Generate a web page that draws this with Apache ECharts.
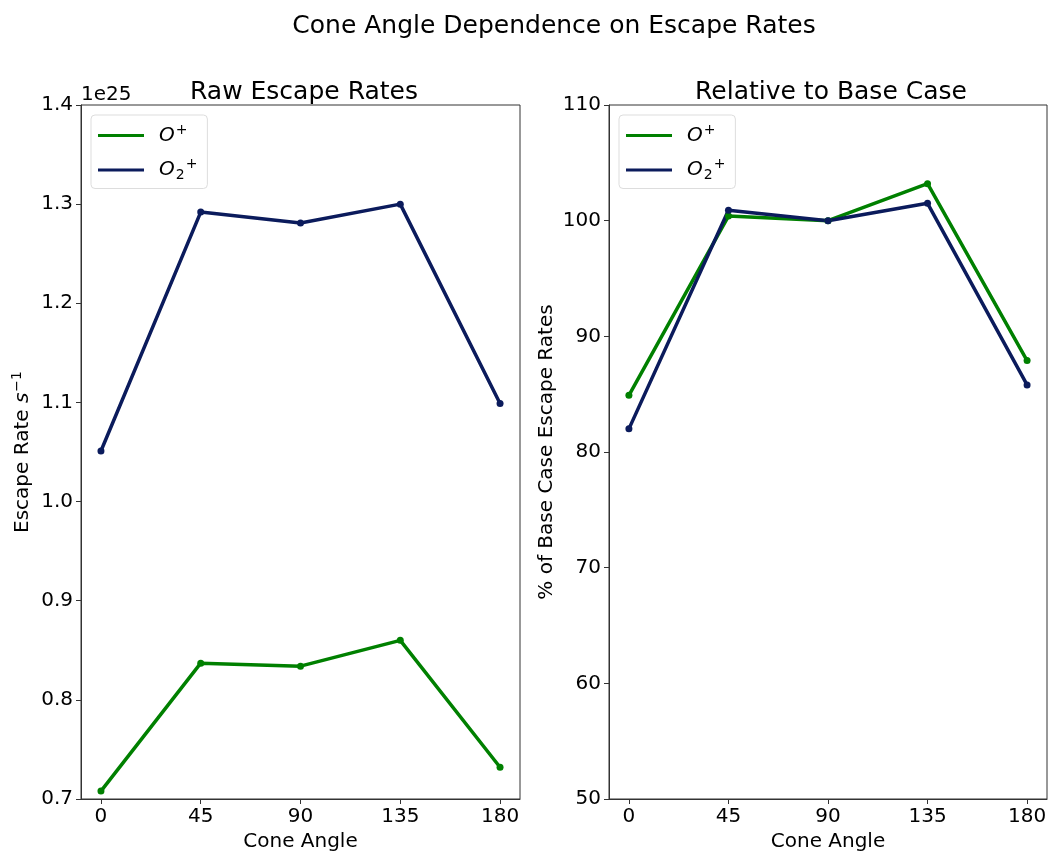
<!DOCTYPE html>
<html>
<head>
<meta charset="utf-8">
<script src="https://cdn.jsdelivr.net/npm/echarts@6/dist/echarts.min.js"></script>
<style>html,body{margin:0;padding:0;background:#fff}#c{width:1050px;height:852px}</style>
</head>
<body>
<div id="c"></div>
<script>
const coneAngles = [0, 45, 90, 135, 180];
const xTicks = [0, 45, 90, 135, 180];
// Raw escape rates, in units of 1e25 s^-1
const rawOPlus = [0.708, 0.837, 0.834, 0.860, 0.732];
const rawO2Plus = [1.051, 1.292, 1.281, 1.300, 1.099];
// Relative to base case (%)
const relOPlus = [84.9, 100.4, 100.0, 103.2, 87.9];
const relO2Plus = [82.0, 100.9, 100.0, 101.5, 85.8];
const seriesNames = ['O+', 'O2+'];
const colors = ['#008000', '#0b1b5c'];

const FONT = 'DejaVu Sans';
const chart = echarts.init(document.getElementById('c'), null, {renderer: 'canvas'});

function pairs(ys) { return coneAngles.map((x, i) => [x, ys[i]]); }

const rich = {
  i: {fontFamily: FONT, fontStyle: 'italic', fontSize: 20, color: '#000'},
  sp: {fontFamily: FONT, fontSize: 14, color: '#000', padding: [0, 0, 11, 1]},
  sb: {fontFamily: FONT, fontSize: 14, color: '#000', padding: [11, 0, 0, 1]}
};
function legendFmt(name) {
  return name === 'O+' ? '{i|O}{sp|+}' : '{i|O}{sb|2}{sp|+}';
}

function xAxis(gi) {
  return {
    type: 'value', gridIndex: gi, min: -9, max: 189,
    name: 'Cone Angle', nameLocation: 'middle', nameGap: 27,
    nameTextStyle: {fontFamily: FONT, fontSize: 20, color: '#000'},
    axisLine: {show: true, onZero: false, lineStyle: {color: '#333', width: 1}},
    axisTick: {show: true, inside: false, length: 5, customValues: xTicks, lineStyle: {color: '#333'}},
    axisLabel: {customValues: xTicks, fontFamily: FONT, fontSize: 20, color: '#000', margin: 8},
    splitLine: {show: false}
  };
}

const legendBase = {
  data: seriesNames, top: 115, orient: 'vertical', icon: 'rect', itemWidth: 46, itemHeight: 3,
  itemGap: 12, padding: [8, 10, 6, 7], borderColor: '#ddd', borderWidth: 1, borderRadius: 4,
  backgroundColor: '#fff', formatter: legendFmt, textStyle: {rich: rich, padding: [0, 0, 0, 10]}
};

const option = {
  backgroundColor: '#fff',
  animation: false,
  title: [
    {text: 'Cone Angle Dependence on Escape Rates', left: 549, textAlign: 'center', top: 9,
     textStyle: {fontFamily: FONT, fontSize: 25, fontWeight: 'normal', color: '#000'}},
    {text: 'Raw Escape Rates', left: 299, textAlign: 'center', top: 75,
     textStyle: {fontFamily: FONT, fontSize: 25, fontWeight: 'normal', color: '#000'}},
    {text: 'Relative to Base Case', left: 826, textAlign: 'center', top: 75,
     textStyle: {fontFamily: FONT, fontSize: 25, fontWeight: 'normal', color: '#000'}}
  ],
  graphic: [
    {type: 'text', left: 81, top: 85, style: {text: '1e25', fontFamily: FONT, fontSize: 20, fill: '#000'}}
  ],
  grid: [
    {left: 81, right: 530, top: 105, bottom: 53, outerBoundsMode: 'none', containLabel: false,
     show: true, borderColor: '#333', borderWidth: 1},
    {left: 609, right: 3, top: 105, bottom: 53, outerBoundsMode: 'none', containLabel: false,
     show: true, borderColor: '#333', borderWidth: 1}
  ],
  legend: [
    Object.assign({}, legendBase, {left: 91}),
    Object.assign({}, legendBase, {left: 619})
  ],
  xAxis: [xAxis(0), xAxis(1)],
  yAxis: [
    {type: 'value', gridIndex: 0, min: 0.7, max: 1.4, interval: 0.1,
     name: '{n|Escape Rate }{i|s}{sp|−1}', nameLocation: 'middle', nameGap: 46, nameRotate: 90,
     nameTextStyle: {rich: {
       n: {fontFamily: FONT, fontSize: 20, color: '#000'},
       i: {fontFamily: FONT, fontSize: 20, fontStyle: 'italic', color: '#000'},
       sp: {fontFamily: FONT, fontSize: 14, color: '#000', padding: [0, 0, 11, 1]}
     }},
     axisLine: {show: true, onZero: false, lineStyle: {color: '#333'}},
     axisTick: {show: true, length: 5, lineStyle: {color: '#333'}},
     axisLabel: {fontFamily: FONT, fontSize: 20, color: '#000', margin: 8, formatter: v => v.toFixed(1)},
     splitLine: {show: false}},
    {type: 'value', gridIndex: 1, min: 50, max: 110, interval: 10,
     name: '% of Base Case Escape Rates', nameLocation: 'middle', nameGap: 52, nameRotate: 90,
     nameTextStyle: {fontFamily: FONT, fontSize: 20, color: '#000'},
     axisLine: {show: true, onZero: false, lineStyle: {color: '#333'}},
     axisTick: {show: true, length: 5, lineStyle: {color: '#333'}},
     axisLabel: {fontFamily: FONT, fontSize: 20, color: '#000', margin: 8},
     splitLine: {show: false}}
  ],
  series: [
    {name: 'O+', type: 'line', xAxisIndex: 0, yAxisIndex: 0, data: pairs(rawOPlus), color: colors[0],
     symbol: 'circle', symbolSize: 7, lineStyle: {width: 3.5}},
    {name: 'O2+', type: 'line', xAxisIndex: 0, yAxisIndex: 0, data: pairs(rawO2Plus), color: colors[1],
     symbol: 'circle', symbolSize: 7, lineStyle: {width: 3.5}},
    {name: 'O+', type: 'line', xAxisIndex: 1, yAxisIndex: 1, data: pairs(relOPlus), color: colors[0],
     symbol: 'circle', symbolSize: 7, lineStyle: {width: 3.5}},
    {name: 'O2+', type: 'line', xAxisIndex: 1, yAxisIndex: 1, data: pairs(relO2Plus), color: colors[1],
     symbol: 'circle', symbolSize: 7, lineStyle: {width: 3.5}}
  ]
};
chart.setOption(option);
</script>
</body>
</html>
